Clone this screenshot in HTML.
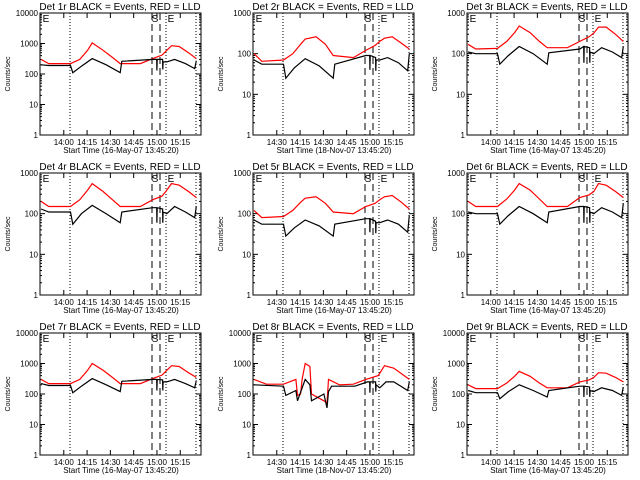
<!DOCTYPE html>
<html><head><meta charset="utf-8"><style>
body{margin:0;background:#fff;}
svg{display:block;font-family:"Liberation Sans",sans-serif;}
</style></head><body>
<svg id="c" width="640" height="480"></svg>
<script>
const titles=["Det 1r BLACK = Events, RED = LLD","Det 2r BLACK = Events, RED = LLD","Det 3r BLACK = Events, RED = LLD","Det 4r BLACK = Events, RED = LLD","Det 5r BLACK = Events, RED = LLD","Det 6r BLACK = Events, RED = LLD","Det 7r BLACK = Events, RED = LLD","Det 8r BLACK = Events, RED = LLD","Det 9r BLACK = Events, RED = LLD"];
const topDecades=[4,3,3,3,3,3,4,4,4];
const ticksA=["14:00","14:15","14:30","14:45","15:00","15:15"];
const ticksB=["14:30","14:15","14:30","14:45","15:00","15:15"];
const dates=["16-May-07","18-Nov-07","16-May-07","16-May-07","16-May-07","16-May-07","16-May-07","18-Nov-07","16-May-07"];
const tR=[0,5,19,25,30,33,40,46,51,64,72,78,81,84,89,95,100];
const red1=[300,220,220,300,600,1050,600,350,220,220,320,420,600,850,800,500,320];
const red4=[200,150,150,220,380,550,350,220,150,150,220,270,380,550,500,350,250];
const red7=[300,220,220,300,600,1000,600,350,220,220,320,420,600,850,800,500,350];
const red2=[100,65,70,100,170,230,260,170,90,80,120,160,200,240,260,180,130];
const red5=[120,80,85,120,190,240,260,180,110,100,150,180,220,260,280,190,130];
const red3=[170,130,135,200,330,480,330,200,140,140,200,260,320,450,450,300,200];
const red6=[200,150,150,230,380,550,380,230,150,150,250,290,350,550,500,350,250];
const red9=[200,150,150,230,380,550,380,230,160,160,250,290,350,500,480,350,250];
const tK=[0,5,19,20.5,26,33,42,51,52,72,74.5,74.6,74.8,78.3,78.4,78.6,81,86,93,99,100];
const blk1=[200,190,190,110,180,320,200,110,260,300,300,130,300,300,140,250,250,300,220,150,270];
const blk2=[70,55,55,25,45,75,50,25,55,90,90,40,90,80,38,70,70,80,60,38,100];
const blk3=[110,100,100,55,90,150,100,55,105,130,150,60,150,140,60,110,100,140,110,80,150];
const blk4=[130,110,110,55,100,160,100,60,110,140,140,60,140,130,60,110,100,150,110,80,150];
const blk5=[70,55,55,28,45,70,50,28,55,75,75,35,75,65,33,60,60,70,55,35,90];
const blk6=[110,100,100,55,90,150,100,60,110,150,150,60,150,140,60,110,100,140,110,80,180];
const blk7=[220,190,190,110,180,320,200,120,260,300,300,130,300,290,130,250,250,300,220,160,280];
const blk9=[130,110,110,70,120,200,130,80,130,180,180,80,180,170,80,130,120,160,130,90,170];
const t8r=[0,8,19,27,28,30,31,33,36,37,45,47,48,55,64,72,80,84,90,100];
const red8=[300,210,210,300,90,100,300,1000,800,100,60,50,300,200,210,300,400,850,700,300];
const t8k=[0,19,20.5,27,28,33,36,37,45,47,48,50,65,73,74.5,74.6,74.8,78.3,78.4,78.6,81,85,90,99,100];
const blk8=[200,180,90,130,60,300,200,60,100,35,120,180,180,250,250,110,250,250,120,200,160,250,250,130,250];
const series=[[tR,red1,tK,blk1],[tR,red2,tK,blk2],[tR,red3,tK,blk3],[tR,red4,tK,blk4],[tR,red5,tK,blk5],[tR,red6,tK,blk6],[tR,red7,tK,blk7],[t8r,red8,t8k,blk8],[tR,red9,tK,blk9]];
const NS="http://www.w3.org/2000/svg";
const svg=document.getElementById('c');
function mk(tag,attrs,parent){const e=document.createElementNS(NS,tag);for(const k in attrs)e.setAttribute(k,attrs[k]);(parent||svg).appendChild(e);return e;}
for(let p=0;p<9;p++){
  const ox=Math.round((p%3)*213.33), oy=Math.floor(p/3)*160;
  const L=ox+40,R=ox+201,T=oy+13,B=oy+135;
  const td=topDecades[p];
  const xs=m=>L+1+m*1.553;
  const ys=v=>T+(td-Math.log10(v))*(B-T)/td;
  const g=mk('g',{});
  
  
  const tt=mk('text',{x:ox+120,y:oy+10,'font-size':'10','text-anchor':'middle'},g);tt.textContent=titles[p];
  
  const fr=mk('rect',{x:L,y:T,width:R-L,height:B-T,fill:'none',stroke:'#000','stroke-width':1},g);
  
  for(let d=0;d<=td;d++){
    const y=ys(Math.pow(10,d));
    mk('line',{x1:L,x2:L+5,y1:y,y2:y,stroke:'#000'},g);mk('line',{x1:R-5,x2:R,y1:y,y2:y,stroke:'#000'},g);
    const lb=mk('text',{x:L-2,y:y+3,'font-size':'8','text-anchor':'end'},g);lb.textContent=String(Math.pow(10,d));
    
    if(d<td)for(let k=2;k<10;k++){const yy=ys(k*Math.pow(10,d));mk('line',{x1:L,x2:L+2,y1:yy,y2:yy,stroke:'#000'},g);mk('line',{x1:R-2,x2:R,y1:yy,y2:yy,stroke:'#000'},g);}
  }
  const labs=(p%3==1)?ticksB:ticksA;
  for(let i=0;i<labs.length;i++){
    const x=xs(14.67+15*i);
    mk('line',{x1:x,x2:x,y1:B,y2:B-5,stroke:'#000'},g);mk('line',{x1:x,x2:x,y1:T,y2:T+5,stroke:'#000'},g);
    const lb=mk('text',{x:x,y:B+10,'font-size':'8','text-anchor':'middle'},g);lb.textContent=labs[i];
    
  }
  const xt=mk('text',{x:ox+121,y:B+18,'font-size':'8','text-anchor':'middle'},g);xt.textContent='Start Time ('+dates[p]+' 13:45:20)';
  
  const yt=mk('text',{x:0,y:0,'font-size':'7','text-anchor':'middle',transform:'translate('+(ox+10)+','+((T+B)/2)+') rotate(-90)'},g);yt.textContent='Counts/sec';
  
  [70,166,196].forEach(r=>mk('line',{x1:ox+r,x2:ox+r,y1:T,y2:B,stroke:'#000','stroke-dasharray':'1,2'},g));
  [152,160].forEach(r=>mk('line',{x1:ox+r,x2:ox+r,y1:T,y2:B,stroke:'#000','stroke-dasharray':'7,4'},g));
  const s=mk('text',{x:ox+155,y:T+9,'font-size':'10','text-anchor':'middle'},g);s.textContent='S';
  const e1=mk('text',{x:ox+46,y:T+9,'font-size':'10','text-anchor':'middle'},g);e1.textContent='E';
  const e2=mk('text',{x:ox+171,y:T+9,'font-size':'10','text-anchor':'middle'},g);e2.textContent='E';
  const [tr,rv,tk,kv]=series[p];
  const rp=mk('polyline',{points:tr.map((t,i)=>xs(t).toFixed(1)+','+ys(rv[i]).toFixed(1)).join(' '),fill:'none',stroke:'#f00','stroke-width':1.2},g);
  
  const kp=mk('polyline',{points:tk.map((t,i)=>xs(t).toFixed(1)+','+ys(kv[i]).toFixed(1)).join(' '),fill:'none',stroke:'#000','stroke-width':1.2},g);
  
}
</script>
</body></html>
